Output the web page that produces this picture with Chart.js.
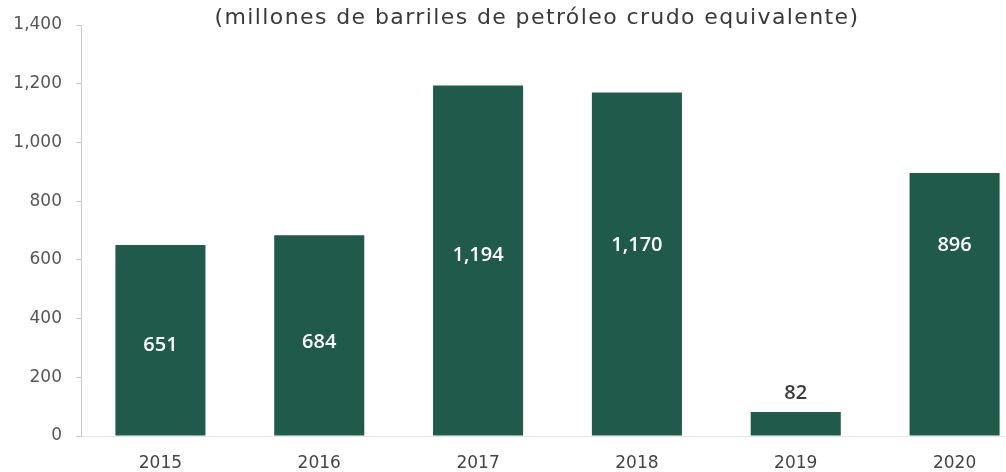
<!DOCTYPE html>
<html>
<head>
<meta charset="utf-8">
<script src="https://cdn.jsdelivr.net/npm/chart.js@4"></script>
<style>
    html, body { margin: 0; padding: 0; background: #fff; overflow: hidden; }
    #wrap { width: 1034px; height: 472px; }
</style>
</head>
<body>
<div id="wrap"><canvas id="reservesChart" width="1034" height="472"></canvas></div>
<script>
const years = ['2015', '2016', '2017', '2018', '2019', '2020'];
const barrels = [651, 684, 1194, 1170, 82, 896];
const yTicks = [0, 200, 400, 600, 800, 1000, 1200, 1400];
const subtitle = '(millones de barriles de petróleo crudo equivalente)';

document.addEventListener('DOMContentLoaded', function () {
    // Title over the plot, drawn by hand so it doesn't push the chart area down
    const titlePlugin = {
        id: 'topTitle',
        afterDraw(chart) {
            const ctx = chart.ctx;
            ctx.save();
            ctx.font = '22px "DejaVu Sans"';
            ctx.letterSpacing = '1.4px';
            ctx.fillStyle = '#3a3a3a';
            ctx.textAlign = 'center';
            ctx.textBaseline = 'middle';
            ctx.fillText(subtitle, 537, 18);
            ctx.restore();
        }
    };

    // Value labels; "at" gives the label height in data units
    const labelPlugin = {
        id: 'barLabels',
        afterDatasetsDraw(chart, args, opts) {
            const ctx = chart.ctx;
            const meta = chart.getDatasetMeta(0);
            const y = chart.scales.y;
            ctx.save();
            ctx.textAlign = 'center';
            ctx.textBaseline = 'middle';
            meta.data.forEach((bar, i) => {
                const v = barrels[i];
                const outside = v < 200;
                ctx.font = '600 20px "Open Sans"';
                ctx.fillStyle = outside ? '#3a3a3a' : '#ffffff';
                ctx.fillText(v.toLocaleString('en-US'), bar.x, y.getPixelForValue(opts.at[i]));
            });
            ctx.restore();
        }
    };

    const ctx = document.getElementById('reservesChart').getContext('2d');
    new Chart(ctx, {
        type: 'bar',
        data: {
            labels: years,
            datasets: [{
                data: barrels,
                backgroundColor: '#1f5a4b',
                borderWidth: 0,
                categoryPercentage: 1,
                barPercentage: 0.567
            }]
        },
        options: {
            responsive: false,
            animation: false,
            layout: { padding: { top: 25, left: 0, right: 0, bottom: 0 } },
            plugins: {
                legend: { display: false },
                tooltip: { enabled: false },
                barLabels: { at: [310, 320, 616, 650, 146, 650] }
            },
            scales: {
                x: {
                    grid: { display: false, drawTicks: false },
                    border: { display: true, color: '#e6e6e6', width: 1 },
                    ticks: { color: '#444', padding: 17, font: { family: 'DejaVu Sans', size: 17 } },
                    afterFit: s => { s.height = 36; }
                },
                y: {
                    min: 0,
                    max: 1400,
                    afterBuildTicks: s => { s.ticks = yTicks.map(v => ({ value: v })); },
                    grid: { drawOnChartArea: false, drawTicks: true, tickLength: 5, color: '#c8c8c8' },
                    border: { display: true, color: '#c8c8c8', width: 1 },
                    ticks: {
                        color: '#555',
                        padding: 14,
                        font: { family: 'DejaVu Sans', size: 17 },
                        callback: v => v.toLocaleString('en-US')
                    },
                    afterFit: s => { s.width = 81; }
                }
            }
        },
        plugins: [titlePlugin, labelPlugin]
    });
});
</script>
</body>
</html>
